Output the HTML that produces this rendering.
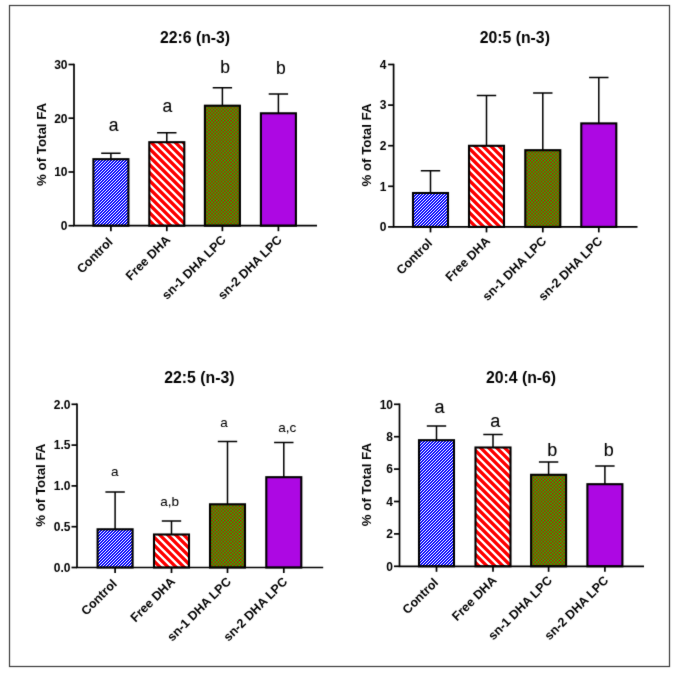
<!DOCTYPE html>
<html><head><meta charset="utf-8"><title>Fatty acids</title>
<style>
html,body{margin:0;padding:0;background:#fff;}
body{width:681px;height:675px;overflow:hidden;font-family:"Liberation Sans",sans-serif;}
svg{display:block;}
text{font-family:"Liberation Sans",sans-serif;fill:#000;}
.b{font-weight:bold;}
</style></head><body>
<svg width="681" height="675" viewBox="0 0 681 675">
<defs>
<pattern id="pb" width="11.0" height="11.0" patternUnits="userSpaceOnUse"><rect width="11.0" height="11.0" fill="#0808ff"/><path d="M-13.00 13.00L2.00 -2.00M-10.25 13.00L4.75 -2.00M-7.50 13.00L7.50 -2.00M-4.75 13.00L10.25 -2.00M-2.00 13.00L13.00 -2.00M0.75 13.00L15.75 -2.00M3.50 13.00L18.50 -2.00M6.25 13.00L21.25 -2.00M9.00 13.00L24.00 -2.00" stroke="#fff" stroke-width="0.72" fill="none"/></pattern>
<pattern id="pr" width="16.0" height="16.0" patternUnits="userSpaceOnUse"><rect width="16.0" height="16.0" fill="#fff"/><path d="M-26.00 -2.00L-6.00 18.00M-18.00 -2.00L2.00 18.00M-10.00 -2.00L10.00 18.00M-2.00 -2.00L18.00 18.00M6.00 -2.00L26.00 18.00M14.00 -2.00L34.00 18.00" stroke="#ff0000" stroke-width="3.4" fill="none"/></pattern>
<pattern id="pg" width="16.0" height="16.0" patternUnits="userSpaceOnUse"><rect width="16.0" height="16.0" fill="#c01400"/><path d="M0.0 0.0h1.6v1.6h-1.6zM3.2 0.0h1.6v1.6h-1.6zM6.4 0.0h1.6v1.6h-1.6zM9.6 0.0h1.6v1.6h-1.6zM12.8 0.0h1.6v1.6h-1.6zM1.6 1.6h1.6v1.6h-1.6zM4.8 1.6h1.6v1.6h-1.6zM8.0 1.6h1.6v1.6h-1.6zM11.2 1.6h1.6v1.6h-1.6zM14.4 1.6h1.6v1.6h-1.6zM0.0 3.2h1.6v1.6h-1.6zM3.2 3.2h1.6v1.6h-1.6zM6.4 3.2h1.6v1.6h-1.6zM9.6 3.2h1.6v1.6h-1.6zM12.8 3.2h1.6v1.6h-1.6zM1.6 4.8h1.6v1.6h-1.6zM4.8 4.8h1.6v1.6h-1.6zM8.0 4.8h1.6v1.6h-1.6zM11.2 4.8h1.6v1.6h-1.6zM14.4 4.8h1.6v1.6h-1.6zM0.0 6.4h1.6v1.6h-1.6zM3.2 6.4h1.6v1.6h-1.6zM6.4 6.4h1.6v1.6h-1.6zM9.6 6.4h1.6v1.6h-1.6zM12.8 6.4h1.6v1.6h-1.6zM1.6 8.0h1.6v1.6h-1.6zM4.8 8.0h1.6v1.6h-1.6zM8.0 8.0h1.6v1.6h-1.6zM11.2 8.0h1.6v1.6h-1.6zM14.4 8.0h1.6v1.6h-1.6zM0.0 9.6h1.6v1.6h-1.6zM3.2 9.6h1.6v1.6h-1.6zM6.4 9.6h1.6v1.6h-1.6zM9.6 9.6h1.6v1.6h-1.6zM12.8 9.6h1.6v1.6h-1.6zM1.6 11.2h1.6v1.6h-1.6zM4.8 11.2h1.6v1.6h-1.6zM8.0 11.2h1.6v1.6h-1.6zM11.2 11.2h1.6v1.6h-1.6zM14.4 11.2h1.6v1.6h-1.6zM0.0 12.8h1.6v1.6h-1.6zM3.2 12.8h1.6v1.6h-1.6zM6.4 12.8h1.6v1.6h-1.6zM9.6 12.8h1.6v1.6h-1.6zM12.8 12.8h1.6v1.6h-1.6zM1.6 14.4h1.6v1.6h-1.6zM4.8 14.4h1.6v1.6h-1.6zM8.0 14.4h1.6v1.6h-1.6zM11.2 14.4h1.6v1.6h-1.6zM14.4 14.4h1.6v1.6h-1.6z" fill="#10c808"/></pattern>
<filter id="bl" x="0" y="0" width="681" height="675" filterUnits="userSpaceOnUse" color-interpolation-filters="sRGB"><feConvolveMatrix order="3" kernelMatrix="0.015 0.07 0.015 0.07 0.660 0.07 0.015 0.07 0.015" edgeMode="duplicate" preserveAlpha="false"/></filter>
<filter id="bl2" x="0" y="0" width="681" height="675" filterUnits="userSpaceOnUse" color-interpolation-filters="sRGB"><feConvolveMatrix order="3" kernelMatrix="0.0 0.05 0.0 0.05 0.800 0.05 0.0 0.05 0.0" edgeMode="duplicate" preserveAlpha="false"/></filter>
</defs>
<rect x="0" y="0" width="681" height="675" fill="#fff"/>

<g filter="url(#bl2)">
<clipPath id="cp0"><rect x="93.4" y="159.2" width="35" height="66.5"/></clipPath>
<g clip-path="url(#cp0)"><rect x="93.4" y="159.2" width="35" height="66.5" fill="#0808ff"/><path d="M91.40 157.60L130.40 118.60M91.40 160.60L130.40 121.60M91.40 163.60L130.40 124.60M91.40 166.60L130.40 127.60M91.40 169.60L130.40 130.60M91.40 172.60L130.40 133.60M91.40 175.60L130.40 136.60M91.40 178.60L130.40 139.60M91.40 181.60L130.40 142.60M91.40 184.60L130.40 145.60M91.40 187.60L130.40 148.60M91.40 190.60L130.40 151.60M91.40 193.60L130.40 154.60M91.40 196.60L130.40 157.60M91.40 199.60L130.40 160.60M91.40 202.60L130.40 163.60M91.40 205.60L130.40 166.60M91.40 208.60L130.40 169.60M91.40 211.60L130.40 172.60M91.40 214.60L130.40 175.60M91.40 217.60L130.40 178.60M91.40 220.60L130.40 181.60M91.40 223.60L130.40 184.60M91.40 226.60L130.40 187.60M91.40 229.60L130.40 190.60M91.40 232.60L130.40 193.60M91.40 235.60L130.40 196.60M91.40 238.60L130.40 199.60M91.40 241.60L130.40 202.60M91.40 244.60L130.40 205.60M91.40 247.60L130.40 208.60M91.40 250.60L130.40 211.60M91.40 253.60L130.40 214.60M91.40 256.60L130.40 217.60M91.40 259.60L130.40 220.60M91.40 262.60L130.40 223.60M91.40 265.60L130.40 226.60M91.40 268.60L130.40 229.60" stroke="#fff" stroke-width="1.0" fill="none"/></g>
<clipPath id="cp2"><rect x="149.3" y="142.2" width="35" height="83.5"/></clipPath>
<g clip-path="url(#cp2)"><rect x="149.3" y="142.2" width="35" height="83.5" fill="#fff"/><path d="M146.30 233.40L187.30 274.40M146.30 225.40L187.30 266.40M146.30 217.40L187.30 258.40M146.30 209.40L187.30 250.40M146.30 201.40L187.30 242.40M146.30 193.40L187.30 234.40M146.30 185.40L187.30 226.40M146.30 177.40L187.30 218.40M146.30 169.40L187.30 210.40M146.30 161.40L187.30 202.40M146.30 153.40L187.30 194.40M146.30 145.40L187.30 186.40M146.30 137.40L187.30 178.40M146.30 129.40L187.30 170.40M146.30 121.40L187.30 162.40M146.30 113.40L187.30 154.40M146.30 105.40L187.30 146.40M146.30 97.40L187.30 138.40M146.30 89.40L187.30 130.40" stroke="#ff0000" stroke-width="3.25" fill="none"/></g>
<rect x="204.9" y="105.7" width="35" height="120.0" fill="url(#pg)"/>
<rect x="260.9" y="113.3" width="35" height="112.4" fill="#ad08e3"/>
<clipPath id="cp6"><rect x="413.0" y="193.0" width="35" height="33.9"/></clipPath>
<g clip-path="url(#cp6)"><rect x="413.0" y="193.0" width="35" height="33.9" fill="#0808ff"/><path d="M411.00 192.00L450.00 153.00M411.00 195.00L450.00 156.00M411.00 198.00L450.00 159.00M411.00 201.00L450.00 162.00M411.00 204.00L450.00 165.00M411.00 207.00L450.00 168.00M411.00 210.00L450.00 171.00M411.00 213.00L450.00 174.00M411.00 216.00L450.00 177.00M411.00 219.00L450.00 180.00M411.00 222.00L450.00 183.00M411.00 225.00L450.00 186.00M411.00 228.00L450.00 189.00M411.00 231.00L450.00 192.00M411.00 234.00L450.00 195.00M411.00 237.00L450.00 198.00M411.00 240.00L450.00 201.00M411.00 243.00L450.00 204.00M411.00 246.00L450.00 207.00M411.00 249.00L450.00 210.00M411.00 252.00L450.00 213.00M411.00 255.00L450.00 216.00M411.00 258.00L450.00 219.00M411.00 261.00L450.00 222.00M411.00 264.00L450.00 225.00M411.00 267.00L450.00 228.00" stroke="#fff" stroke-width="1.0" fill="none"/></g>
<clipPath id="cp8"><rect x="469.0" y="145.8" width="35" height="81.1"/></clipPath>
<g clip-path="url(#cp8)"><rect x="469.0" y="145.8" width="35" height="81.1" fill="#fff"/><path d="M466.00 233.10L507.00 274.10M466.00 225.10L507.00 266.10M466.00 217.10L507.00 258.10M466.00 209.10L507.00 250.10M466.00 201.10L507.00 242.10M466.00 193.10L507.00 234.10M466.00 185.10L507.00 226.10M466.00 177.10L507.00 218.10M466.00 169.10L507.00 210.10M466.00 161.10L507.00 202.10M466.00 153.10L507.00 194.10M466.00 145.10L507.00 186.10M466.00 137.10L507.00 178.10M466.00 129.10L507.00 170.10M466.00 121.10L507.00 162.10M466.00 113.10L507.00 154.10M466.00 105.10L507.00 146.10M466.00 97.10L507.00 138.10" stroke="#ff0000" stroke-width="3.25" fill="none"/></g>
<rect x="525.3" y="150.2" width="35" height="76.7" fill="url(#pg)"/>
<rect x="581.3" y="123.4" width="35" height="103.5" fill="#ad08e3"/>
<clipPath id="cp12"><rect x="97.6" y="529.3" width="35" height="38.2"/></clipPath>
<g clip-path="url(#cp12)"><rect x="97.6" y="529.3" width="35" height="38.2" fill="#0808ff"/><path d="M95.60 525.40L134.60 486.40M95.60 528.40L134.60 489.40M95.60 531.40L134.60 492.40M95.60 534.40L134.60 495.40M95.60 537.40L134.60 498.40M95.60 540.40L134.60 501.40M95.60 543.40L134.60 504.40M95.60 546.40L134.60 507.40M95.60 549.40L134.60 510.40M95.60 552.40L134.60 513.40M95.60 555.40L134.60 516.40M95.60 558.40L134.60 519.40M95.60 561.40L134.60 522.40M95.60 564.40L134.60 525.40M95.60 567.40L134.60 528.40M95.60 570.40L134.60 531.40M95.60 573.40L134.60 534.40M95.60 576.40L134.60 537.40M95.60 579.40L134.60 540.40M95.60 582.40L134.60 543.40M95.60 585.40L134.60 546.40M95.60 588.40L134.60 549.40M95.60 591.40L134.60 552.40M95.60 594.40L134.60 555.40M95.60 597.40L134.60 558.40M95.60 600.40L134.60 561.40M95.60 603.40L134.60 564.40M95.60 606.40L134.60 567.40M95.60 609.40L134.60 570.40" stroke="#fff" stroke-width="1.0" fill="none"/></g>
<clipPath id="cp14"><rect x="154.0" y="534.5" width="35" height="33.0"/></clipPath>
<g clip-path="url(#cp14)"><rect x="154.0" y="534.5" width="35" height="33.0" fill="#fff"/><path d="M151.00 574.10L192.00 615.10M151.00 566.10L192.00 607.10M151.00 558.10L192.00 599.10M151.00 550.10L192.00 591.10M151.00 542.10L192.00 583.10M151.00 534.10L192.00 575.10M151.00 526.10L192.00 567.10M151.00 518.10L192.00 559.10M151.00 510.10L192.00 551.10M151.00 502.10L192.00 543.10M151.00 494.10L192.00 535.10M151.00 486.10L192.00 527.10" stroke="#ff0000" stroke-width="3.25" fill="none"/></g>
<rect x="210.0" y="504.3" width="35" height="63.2" fill="url(#pg)"/>
<rect x="266.3" y="477.2" width="35" height="90.3" fill="#ad08e3"/>
<clipPath id="cp18"><rect x="419.0" y="440.2" width="35" height="126.1"/></clipPath>
<g clip-path="url(#cp18)"><rect x="419.0" y="440.2" width="35" height="126.1" fill="#0808ff"/><path d="M417.00 438.00L456.00 399.00M417.00 441.00L456.00 402.00M417.00 444.00L456.00 405.00M417.00 447.00L456.00 408.00M417.00 450.00L456.00 411.00M417.00 453.00L456.00 414.00M417.00 456.00L456.00 417.00M417.00 459.00L456.00 420.00M417.00 462.00L456.00 423.00M417.00 465.00L456.00 426.00M417.00 468.00L456.00 429.00M417.00 471.00L456.00 432.00M417.00 474.00L456.00 435.00M417.00 477.00L456.00 438.00M417.00 480.00L456.00 441.00M417.00 483.00L456.00 444.00M417.00 486.00L456.00 447.00M417.00 489.00L456.00 450.00M417.00 492.00L456.00 453.00M417.00 495.00L456.00 456.00M417.00 498.00L456.00 459.00M417.00 501.00L456.00 462.00M417.00 504.00L456.00 465.00M417.00 507.00L456.00 468.00M417.00 510.00L456.00 471.00M417.00 513.00L456.00 474.00M417.00 516.00L456.00 477.00M417.00 519.00L456.00 480.00M417.00 522.00L456.00 483.00M417.00 525.00L456.00 486.00M417.00 528.00L456.00 489.00M417.00 531.00L456.00 492.00M417.00 534.00L456.00 495.00M417.00 537.00L456.00 498.00M417.00 540.00L456.00 501.00M417.00 543.00L456.00 504.00M417.00 546.00L456.00 507.00M417.00 549.00L456.00 510.00M417.00 552.00L456.00 513.00M417.00 555.00L456.00 516.00M417.00 558.00L456.00 519.00M417.00 561.00L456.00 522.00M417.00 564.00L456.00 525.00M417.00 567.00L456.00 528.00M417.00 570.00L456.00 531.00M417.00 573.00L456.00 534.00M417.00 576.00L456.00 537.00M417.00 579.00L456.00 540.00M417.00 582.00L456.00 543.00M417.00 585.00L456.00 546.00M417.00 588.00L456.00 549.00M417.00 591.00L456.00 552.00M417.00 594.00L456.00 555.00M417.00 597.00L456.00 558.00M417.00 600.00L456.00 561.00M417.00 603.00L456.00 564.00M417.00 606.00L456.00 567.00M417.00 609.00L456.00 570.00" stroke="#fff" stroke-width="1.0" fill="none"/></g>
<clipPath id="cp20"><rect x="475.5" y="447.5" width="35" height="118.8"/></clipPath>
<g clip-path="url(#cp20)"><rect x="475.5" y="447.5" width="35" height="118.8" fill="#fff"/><path d="M472.50 575.60L513.50 616.60M472.50 567.60L513.50 608.60M472.50 559.60L513.50 600.60M472.50 551.60L513.50 592.60M472.50 543.60L513.50 584.60M472.50 535.60L513.50 576.60M472.50 527.60L513.50 568.60M472.50 519.60L513.50 560.60M472.50 511.60L513.50 552.60M472.50 503.60L513.50 544.60M472.50 495.60L513.50 536.60M472.50 487.60L513.50 528.60M472.50 479.60L513.50 520.60M472.50 471.60L513.50 512.60M472.50 463.60L513.50 504.60M472.50 455.60L513.50 496.60M472.50 447.60L513.50 488.60M472.50 439.60L513.50 480.60M472.50 431.60L513.50 472.60M472.50 423.60L513.50 464.60M472.50 415.60L513.50 456.60M472.50 407.60L513.50 448.60M472.50 399.60L513.50 440.60" stroke="#ff0000" stroke-width="3.25" fill="none"/></g>
<rect x="531.1" y="474.8" width="35" height="91.5" fill="url(#pg)"/>
<rect x="587.4" y="484.2" width="35" height="82.1" fill="#ad08e3"/>
</g>
<g filter="url(#bl)">
<rect x="9.5" y="5.5" width="660" height="661" fill="none" stroke="#3a3a3a" stroke-width="1.2"/>
<g>
<text class="b" x="195" y="43.2" font-size="15.8" text-anchor="middle">22:6 (n-3)</text>
<path d="M101.2 153.2H120.6M110.9 153.2V159.2" stroke="#000" stroke-width="1.5" fill="none"/>
<rect x="93.4" y="159.2" width="35" height="66.5" fill="none" stroke="#000" stroke-width="2.1"/>
<path d="M110.9 225.7V231.2" stroke="#000" stroke-width="1.7"/>
<text class="b" font-size="12.5" text-anchor="end" transform="translate(113.4 242.7) rotate(-45)">Control</text>
<path d="M157.1 132.8H176.5M166.8 132.8V142.2" stroke="#000" stroke-width="1.5" fill="none"/>
<rect x="149.3" y="142.2" width="35" height="83.5" fill="none" stroke="#000" stroke-width="2.1"/>
<path d="M166.8 225.7V231.2" stroke="#000" stroke-width="1.7"/>
<text class="b" font-size="12.5" text-anchor="end" transform="translate(171.1 240.6) rotate(-45)">Free DHA</text>
<path d="M212.7 87.8H232.1M222.4 87.8V105.7" stroke="#000" stroke-width="1.5" fill="none"/>
<rect x="204.9" y="105.7" width="35" height="120.0" fill="none" stroke="#000" stroke-width="2.1"/>
<path d="M222.4 225.7V231.2" stroke="#000" stroke-width="1.7"/>
<text class="b" font-size="12.5" text-anchor="end" transform="translate(226.7 240.6) rotate(-45)">sn-1 DHA LPC</text>
<path d="M268.7 94.0H288.1M278.4 94.0V113.3" stroke="#000" stroke-width="1.5" fill="none"/>
<rect x="260.9" y="113.3" width="35" height="112.4" fill="none" stroke="#000" stroke-width="2.1"/>
<path d="M278.4 225.7V231.2" stroke="#000" stroke-width="1.7"/>
<text class="b" font-size="12.5" text-anchor="end" transform="translate(282.7 240.6) rotate(-45)">sn-2 DHA LPC</text>
<path d="M74.0 63.65V225.7M73.15 225.7H317.0" stroke="#000" stroke-width="1.7" fill="none"/>
<path d="M68.5 225.7H74.0" stroke="#000" stroke-width="1.7"/>
<text class="b" font-size="12" text-anchor="end" x="67.5" y="230.0">0</text>
<path d="M68.5 172.0H74.0" stroke="#000" stroke-width="1.7"/>
<text class="b" font-size="12" text-anchor="end" x="67.5" y="176.3">10</text>
<path d="M68.5 118.2H74.0" stroke="#000" stroke-width="1.7"/>
<text class="b" font-size="12" text-anchor="end" x="67.5" y="122.5">20</text>
<path d="M68.5 64.5H74.0" stroke="#000" stroke-width="1.7"/>
<text class="b" font-size="12" text-anchor="end" x="67.5" y="68.8">30</text>
<text class="b" font-size="13.3" text-anchor="middle" transform="translate(45.7 144.4) rotate(-90)">% of Total FA</text>
<text font-size="17.5" text-anchor="middle" x="113.7" y="130.6" stroke="#000" stroke-width="0.12">a</text>
<text font-size="17.5" text-anchor="middle" x="167.3" y="111.8" stroke="#000" stroke-width="0.12">a</text>
<text font-size="17.5" text-anchor="middle" x="225.2" y="72.7" stroke="#000" stroke-width="0.12">b</text>
<text font-size="17.5" text-anchor="middle" x="280.8" y="74.4" stroke="#000" stroke-width="0.12">b</text>
</g>
<g>
<text class="b" x="514.8" y="43.3" font-size="15.8" text-anchor="middle">20:5 (n-3)</text>
<path d="M420.8 170.7H440.2M430.5 170.7V193.0" stroke="#000" stroke-width="1.5" fill="none"/>
<rect x="413.0" y="193.0" width="35" height="33.9" fill="none" stroke="#000" stroke-width="2.1"/>
<path d="M430.5 226.9V232.4" stroke="#000" stroke-width="1.7"/>
<text class="b" font-size="12.5" text-anchor="end" transform="translate(433.0 243.9) rotate(-45)">Control</text>
<path d="M476.8 95.4H496.2M486.5 95.4V145.8" stroke="#000" stroke-width="1.5" fill="none"/>
<rect x="469.0" y="145.8" width="35" height="81.1" fill="none" stroke="#000" stroke-width="2.1"/>
<path d="M486.5 226.9V232.4" stroke="#000" stroke-width="1.7"/>
<text class="b" font-size="12.5" text-anchor="end" transform="translate(490.8 241.8) rotate(-45)">Free DHA</text>
<path d="M533.1 92.9H552.5M542.8 92.9V150.2" stroke="#000" stroke-width="1.5" fill="none"/>
<rect x="525.3" y="150.2" width="35" height="76.7" fill="none" stroke="#000" stroke-width="2.1"/>
<path d="M542.8 226.9V232.4" stroke="#000" stroke-width="1.7"/>
<text class="b" font-size="12.5" text-anchor="end" transform="translate(547.1 241.8) rotate(-45)">sn-1 DHA LPC</text>
<path d="M589.1 77.6H608.5M598.8 77.6V123.4" stroke="#000" stroke-width="1.5" fill="none"/>
<rect x="581.3" y="123.4" width="35" height="103.5" fill="none" stroke="#000" stroke-width="2.1"/>
<path d="M598.8 226.9V232.4" stroke="#000" stroke-width="1.7"/>
<text class="b" font-size="12.5" text-anchor="end" transform="translate(603.1 241.8) rotate(-45)">sn-2 DHA LPC</text>
<path d="M393.6 63.65V226.9M392.75 226.9H637.5" stroke="#000" stroke-width="1.7" fill="none"/>
<path d="M388.1 226.9H393.6" stroke="#000" stroke-width="1.7"/>
<text class="b" font-size="12" text-anchor="end" x="386.4" y="231.2">0</text>
<path d="M388.1 186.3H393.6" stroke="#000" stroke-width="1.7"/>
<text class="b" font-size="12" text-anchor="end" x="386.4" y="190.6">1</text>
<path d="M388.1 145.7H393.6" stroke="#000" stroke-width="1.7"/>
<text class="b" font-size="12" text-anchor="end" x="386.4" y="150.0">2</text>
<path d="M388.1 105.1H393.6" stroke="#000" stroke-width="1.7"/>
<text class="b" font-size="12" text-anchor="end" x="386.4" y="109.4">3</text>
<path d="M388.1 64.5H393.6" stroke="#000" stroke-width="1.7"/>
<text class="b" font-size="12" text-anchor="end" x="386.4" y="68.8">4</text>
<text class="b" font-size="13.3" text-anchor="middle" transform="translate(371.3 145.0) rotate(-90)">% of Total FA</text>
</g>
<g>
<text class="b" x="199.4" y="383.4" font-size="15.8" text-anchor="middle">22:5 (n-3)</text>
<path d="M105.4 492.0H124.8M115.1 492.0V529.3" stroke="#000" stroke-width="1.5" fill="none"/>
<rect x="97.6" y="529.3" width="35" height="38.2" fill="none" stroke="#000" stroke-width="2.1"/>
<path d="M115.1 567.5V573.0" stroke="#000" stroke-width="1.7"/>
<text class="b" font-size="12.5" text-anchor="end" transform="translate(117.6 584.5) rotate(-45)">Control</text>
<path d="M161.8 521.0H181.2M171.5 521.0V534.5" stroke="#000" stroke-width="1.5" fill="none"/>
<rect x="154.0" y="534.5" width="35" height="33.0" fill="none" stroke="#000" stroke-width="2.1"/>
<path d="M171.5 567.5V573.0" stroke="#000" stroke-width="1.7"/>
<text class="b" font-size="12.5" text-anchor="end" transform="translate(175.8 582.4) rotate(-45)">Free DHA</text>
<path d="M217.8 441.4H237.2M227.5 441.4V504.3" stroke="#000" stroke-width="1.5" fill="none"/>
<rect x="210.0" y="504.3" width="35" height="63.2" fill="none" stroke="#000" stroke-width="2.1"/>
<path d="M227.5 567.5V573.0" stroke="#000" stroke-width="1.7"/>
<text class="b" font-size="12.5" text-anchor="end" transform="translate(231.8 582.4) rotate(-45)">sn-1 DHA LPC</text>
<path d="M274.1 442.6H293.5M283.8 442.6V477.2" stroke="#000" stroke-width="1.5" fill="none"/>
<rect x="266.3" y="477.2" width="35" height="90.3" fill="none" stroke="#000" stroke-width="2.1"/>
<path d="M283.8 567.5V573.0" stroke="#000" stroke-width="1.7"/>
<text class="b" font-size="12.5" text-anchor="end" transform="translate(288.1 582.4) rotate(-45)">sn-2 DHA LPC</text>
<path d="M77.0 403.45V567.5M76.15 567.5H323.2" stroke="#000" stroke-width="1.7" fill="none"/>
<path d="M71.5 567.5H77.0" stroke="#000" stroke-width="1.7"/>
<text class="b" font-size="12" text-anchor="end" x="70.5" y="571.8">0.0</text>
<path d="M71.5 526.7H77.0" stroke="#000" stroke-width="1.7"/>
<text class="b" font-size="12" text-anchor="end" x="70.5" y="531.0">0.5</text>
<path d="M71.5 485.9H77.0" stroke="#000" stroke-width="1.7"/>
<text class="b" font-size="12" text-anchor="end" x="70.5" y="490.2">1.0</text>
<path d="M71.5 445.1H77.0" stroke="#000" stroke-width="1.7"/>
<text class="b" font-size="12" text-anchor="end" x="70.5" y="449.4">1.5</text>
<path d="M71.5 404.3H77.0" stroke="#000" stroke-width="1.7"/>
<text class="b" font-size="12" text-anchor="end" x="70.5" y="408.6">2.0</text>
<text class="b" font-size="13.3" text-anchor="middle" transform="translate(45.2 485.2) rotate(-90)">% of Total FA</text>
<text font-size="13.5" text-anchor="middle" x="114.8" y="475.7" stroke="#000" stroke-width="0.04">a</text>
<text font-size="13.5" text-anchor="middle" x="169.6" y="506.4" stroke="#000" stroke-width="0.04">a,b</text>
<text font-size="13.5" text-anchor="middle" x="224.0" y="426.6" stroke="#000" stroke-width="0.04">a</text>
<text font-size="13.5" text-anchor="middle" x="287.2" y="432.3" stroke="#000" stroke-width="0.04">a,c</text>
</g>
<g>
<text class="b" x="521" y="383.4" font-size="15.8" text-anchor="middle">20:4 (n-6)</text>
<path d="M426.8 426.1H446.2M436.5 426.1V440.2" stroke="#000" stroke-width="1.5" fill="none"/>
<rect x="419.0" y="440.2" width="35" height="126.1" fill="none" stroke="#000" stroke-width="2.1"/>
<path d="M436.5 566.3V571.8" stroke="#000" stroke-width="1.7"/>
<text class="b" font-size="12.5" text-anchor="end" transform="translate(439.0 583.3) rotate(-45)">Control</text>
<path d="M483.3 434.4H502.7M493.0 434.4V447.5" stroke="#000" stroke-width="1.5" fill="none"/>
<rect x="475.5" y="447.5" width="35" height="118.8" fill="none" stroke="#000" stroke-width="2.1"/>
<path d="M493.0 566.3V571.8" stroke="#000" stroke-width="1.7"/>
<text class="b" font-size="12.5" text-anchor="end" transform="translate(497.3 581.2) rotate(-45)">Free DHA</text>
<path d="M538.9 462.0H558.3M548.6 462.0V474.8" stroke="#000" stroke-width="1.5" fill="none"/>
<rect x="531.1" y="474.8" width="35" height="91.5" fill="none" stroke="#000" stroke-width="2.1"/>
<path d="M548.6 566.3V571.8" stroke="#000" stroke-width="1.7"/>
<text class="b" font-size="12.5" text-anchor="end" transform="translate(552.9 581.2) rotate(-45)">sn-1 DHA LPC</text>
<path d="M595.2 466.0H614.6M604.9 466.0V484.2" stroke="#000" stroke-width="1.5" fill="none"/>
<rect x="587.4" y="484.2" width="35" height="82.1" fill="none" stroke="#000" stroke-width="2.1"/>
<path d="M604.9 566.3V571.8" stroke="#000" stroke-width="1.7"/>
<text class="b" font-size="12.5" text-anchor="end" transform="translate(609.2 581.2) rotate(-45)">sn-2 DHA LPC</text>
<path d="M399.5 403.45V566.3M398.65 566.3H644.0" stroke="#000" stroke-width="1.7" fill="none"/>
<path d="M394.0 566.3H399.5" stroke="#000" stroke-width="1.7"/>
<text class="b" font-size="12" text-anchor="end" x="393.0" y="570.6">0</text>
<path d="M394.0 533.9H399.5" stroke="#000" stroke-width="1.7"/>
<text class="b" font-size="12" text-anchor="end" x="393.0" y="538.2">2</text>
<path d="M394.0 501.5H399.5" stroke="#000" stroke-width="1.7"/>
<text class="b" font-size="12" text-anchor="end" x="393.0" y="505.8">4</text>
<path d="M394.0 469.1H399.5" stroke="#000" stroke-width="1.7"/>
<text class="b" font-size="12" text-anchor="end" x="393.0" y="473.4">6</text>
<path d="M394.0 436.7H399.5" stroke="#000" stroke-width="1.7"/>
<text class="b" font-size="12" text-anchor="end" x="393.0" y="441.0">8</text>
<path d="M394.0 404.3H399.5" stroke="#000" stroke-width="1.7"/>
<text class="b" font-size="12" text-anchor="end" x="393.0" y="408.6">10</text>
<text class="b" font-size="13.3" text-anchor="middle" transform="translate(371 484.6) rotate(-90)">% of Total FA</text>
<text font-size="18" text-anchor="middle" x="439.6" y="413.4" stroke="#000" stroke-width="0.12">a</text>
<text font-size="18" text-anchor="middle" x="495.3" y="427.3" stroke="#000" stroke-width="0.12">a</text>
<text font-size="18" text-anchor="middle" x="552.3" y="455.9" stroke="#000" stroke-width="0.12">b</text>
<text font-size="18" text-anchor="middle" x="608.7" y="455.9" stroke="#000" stroke-width="0.12">b</text>
</g>
</g>
</svg></body></html>
